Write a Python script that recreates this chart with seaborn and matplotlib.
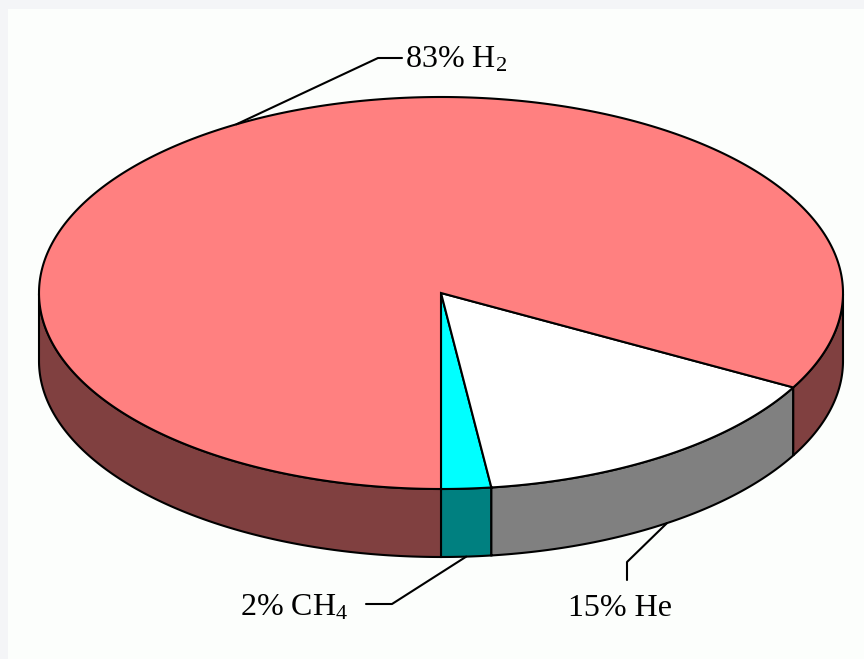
import numpy as np
import matplotlib
matplotlib.use("Agg")
import matplotlib.pyplot as plt
import seaborn as sns

# Composition of the gas mixture (percent)
gases = ["H$_2$", "He", "CH$_4$"]
shares = [83, 15, 2]
top_colors = ["#FF8080", "#FFFFFF", "#00FFFF"]
side_colors = ["#804040", "#808080", "#008080"]

sns.set_theme(style="white")
plt.rcParams["font.family"] = ["Liberation Serif", "DejaVu Serif"]
plt.rcParams["mathtext.fontset"] = "custom"
plt.rcParams["mathtext.rm"] = "Liberation Serif"
plt.rcParams["mathtext.it"] = "Liberation Serif"

W, H = 864, 659
fig = plt.figure(figsize=(W / 100, H / 100), dpi=100, facecolor="#F4F5F7")
ax = fig.add_axes([8 / W, 0, (W - 8) / W, (H - 9) / H], facecolor="#FCFEFC")
ax.set_xlim(8, W)
ax.set_ylim(H, 9)
ax.set_xticks([])
ax.set_yticks([])
sns.despine(ax=ax, left=True, bottom=True)

# ellipse geometry of the pie disc (drawing units = pixels)
cx, cy, a, b, depth = 441, 293, 402, 196, 68
lw = 1.5


def pt(t_deg, drop=0.0):
    t = np.radians(t_deg)
    return cx + a * np.cos(t), cy - b * np.sin(t) + drop


# slices go counter-clockwise starting straight down: CH4, He, H2
order = [2, 1, 0]
fracs = np.array([shares[i] for i in order], dtype=float)
edges = -90 + 360 * np.concatenate([[0], np.cumsum(fracs) / fracs.sum()])
spans = {order[k]: (edges[k], edges[k + 1]) for k in range(len(order))}

# side walls (only the front half of the rim is visible)
for i, (t1, t2) in spans.items():
    ts = np.linspace(t1, t2, 600)
    front = np.sin(np.radians(ts)) <= 1e-9
    runs, cur = [], []
    for t, f in zip(ts, front):
        if f:
            cur.append(t)
        elif cur:
            runs.append(cur)
            cur = []
    if cur:
        runs.append(cur)
    for run in runs:
        run = np.array(run)
        xt, yt = pt(run)
        xb, yb = pt(run[::-1], depth)
        ax.fill(np.concatenate([xt, xb]), np.concatenate([yt, yb]),
                facecolor=side_colors[i], edgecolor="black", linewidth=lw,
                joinstyle="miter")

# top faces
for i, (t1, t2) in spans.items():
    ts = np.linspace(t1, t2, 800)
    xs, ys = pt(ts)
    ax.fill(np.concatenate([[cx], xs]), np.concatenate([[cy], ys]),
            facecolor=top_colors[i], edgecolor="black", linewidth=lw,
            joinstyle="miter")

# labels with leader lines
fs = 23
mid = {i: (t1 + t2) / 2 for i, (t1, t2) in spans.items()}

# H2 (back of the disc: leader starts on the top rim)
x0, y0 = pt(mid[0])
ax.plot([x0, 378, 402], [y0, 58, 58], color="black", lw=lw)
ax.text(405, 68, f"{shares[0]}% {gases[0]}", fontsize=fs, ha="left",
        va="baseline", color="black")

# CH4 (front: leader starts on the lower rim)
x0, y0 = pt(mid[2], depth)
ax.plot([x0, 392, 366], [y0, 604, 604], color="black", lw=lw)
ax.text(240, 616, f"{shares[2]}% {gases[2]}", fontsize=fs, ha="left",
        va="baseline", color="black")

# He
x0, y0 = pt(mid[1], depth)
ax.plot([x0, 627, 627], [y0, 562, 580], color="black", lw=lw)
ax.text(568, 616, f"{shares[1]}% {gases[1]}", fontsize=fs, ha="left",
        va="baseline", color="black")

fig.savefig("out.png", dpi=100, facecolor=fig.get_facecolor())
